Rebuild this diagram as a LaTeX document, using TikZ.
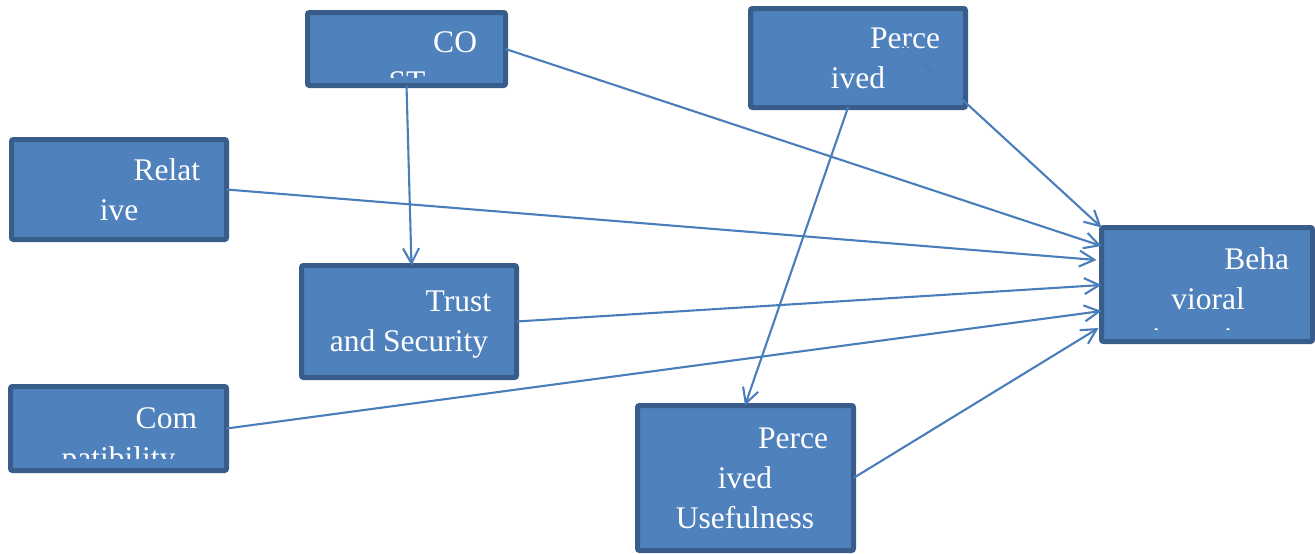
\documentclass[tikz,border=0pt]{standalone}
\usepackage{fontspec}
\setmainfont{Liberation Serif}
\usetikzlibrary{arrows.meta,calc}

\definecolor{boxfill}{HTML}{4F81BD}
\definecolor{boxedge}{HTML}{385D8A}
\definecolor{linkcol}{HTML}{4A7EBB}

\begin{document}
\begin{tikzpicture}[x=1pt,y=-1pt,
  box/.style={draw=boxedge, line width=5pt, fill=boxfill, rounded corners=2pt,
              inner sep=0pt, outer sep=0pt},
  lbl/.style={text=white, inner sep=0pt, outer sep=0pt,
              font=\rmfamily\fontsize{31.5}{40}\selectfont},
  first/.style={lbl, anchor=base east},
  rest/.style={lbl, anchor=base},
  link/.style={draw=linkcol, line width=2.1pt,
               -{Straight Barb[length=15pt,width=16pt,line width=2.1pt]}}
]
\useasboundingbox (0,0) rectangle (1315,554);

% boxes
\node[box, minimum width=198pt, minimum height=73pt]  (cost)   at (406.5,49)   {};
\node[box, minimum width=215pt, minimum height=99pt]  (perc)   at (858,58)     {};
\node[box, minimum width=215pt, minimum height=100pt] (rel)    at (119,189.5)  {};
\node[box, minimum width=215pt, minimum height=112pt] (trust)  at (409,321.5)  {};
\node[box, minimum width=216pt, minimum height=84pt]  (compat) at (118.5,428.5){};
\node[box, minimum width=216pt, minimum height=145pt] (pu)     at (745.5,478)  {};
\node[box, minimum width=211pt, minimum height=114pt] (beh)    at (1207,284.5) {};

% labels, clipped to the text area of each box
\begin{scope}
  \clip (cost.north west) rectangle ($(cost.south east)+(0,-8)$);
  \node[first] (costA) at (477,52) {CO};
  \node[rest]  (costB) at (407,92) {ST};
\end{scope}
\begin{scope}
  \clip (perc.north west) rectangle ($(perc.south east)+(0,-4)$);
  \node[first] (percA) at (940,48) {Perce};
  \node[rest]  (percB) at (858,88) {ived};
\end{scope}
\begin{scope}
  \clip (rel.north west) rectangle ($(rel.south east)+(0,-4)$);
  \node[first] (relA) at (200,180) {Relat};
  \node[rest]  (relB) at (119,220) {ive};
\end{scope}
\begin{scope}
  \clip (trust.north west) rectangle ($(trust.south east)+(0,-4)$);
  \node[first] (trustA) at (491,311) {Trust};
  \node[rest]  (trustB) at (409,351) {and Security};
\end{scope}
\begin{scope}
  \clip (compat.north west) rectangle ($(compat.south east)+(0,-12)$);
  \node[first] (compatA) at (197,428)   {Com};
  \node[rest]  (compatB) at (118.5,468) {patibility};
\end{scope}
\begin{scope}
  \clip (pu.north west) rectangle ($(pu.south east)+(0,-4)$);
  \node[first] (puA) at (828,448) {Perce};
  \node[rest]  (puB) at (745,488) {ived};
  \node[rest]  (puC) at (745,528) {Usefulness};
\end{scope}
\begin{scope}
  \clip (beh.north west) rectangle ($(beh.south east)+(0,-12.5)$);
  \node[first] (behA) at (1289,269) {Beha};
  \node[rest]  (behB) at (1208,309) {vioral};
  \node[rest]  (behC) at (1208,349) {intention};
\end{scope}

% connectors
\draw[link] (cost.east) -- ([yshift=38.5pt]beh.west);
\draw[link] ([xshift=46pt,yshift=12pt]perc.center) -- (beh.north west);
\draw[link] (rel.east) -- ([xshift=-5pt,yshift=24.5pt]beh.west);
\draw[link] (trust.east) -- ([yshift=-0.5pt]beh.west);
\draw[link] (compat.east) -- ([yshift=-26.5pt]beh.west);
\draw[link] (pu.east) -- ([xshift=-3pt,yshift=-43.5pt]beh.west);
\draw[link] ([xshift=-10pt]perc.south) -- ([xshift=-0.5pt]pu.north);
\draw[link] (cost.south) -- ([xshift=2.5pt]trust.north);
\end{tikzpicture}
\end{document}
